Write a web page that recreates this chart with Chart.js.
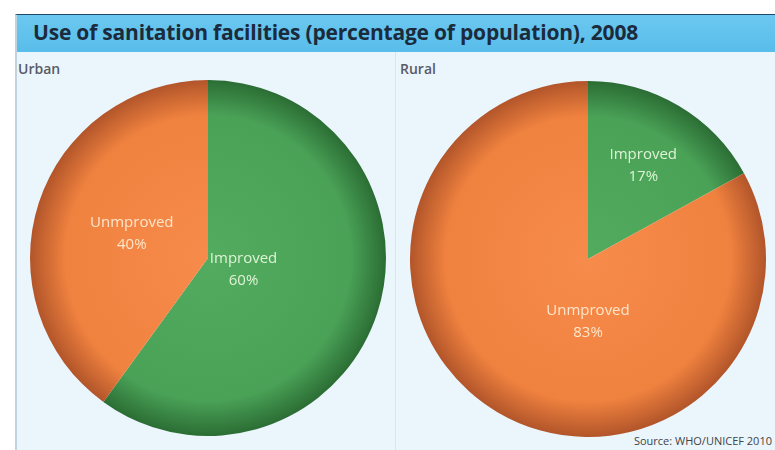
<!DOCTYPE html>
<html>
<head>
<meta charset="utf-8">
<script src="https://cdn.jsdelivr.net/npm/chart.js@4/dist/chart.umd.min.js"></script>
<style>
  body { margin: 0; background: #fff; width: 775px; height: 450px; overflow: hidden; position: relative; font-family: "Open Sans", "Noto Sans", sans-serif; }
  #frame { position: absolute; left: 15px; top: 14px; width: 760px; height: 436px; background: #eaf5fc; border-top: 1px solid #1d4a6a; border-left: 2px solid #c3d3de; box-sizing: border-box; }
  #titlebar { position: absolute; left: 0; top: 0; right: 0; height: 37px; background: linear-gradient(#6cc8f0, #58bdea); }
  #title { position: absolute; left: 16px; top: 3px; font-size: 21px; font-weight: 700; color: #1b2b3b; letter-spacing: -0.2px; }
  #divider { position: absolute; left: 378px; top: 37px; bottom: 0; width: 1px; background: #d6e6f0; }
  .panel { position: absolute; top: 44px; font-size: 14px; color: #5a5a66; font-weight: 600; }
  #source { position: absolute; right: 3px; bottom: 2px; font-size: 11px; color: #444; }
  canvas { position: absolute; }
</style>
</head>
<body>
<div id="frame">
  <div id="titlebar"><div id="title">Use of sanitation facilities (percentage of population), 2008</div></div>
  <div id="divider"></div>
  <div class="panel" style="left:1px">Urban</div>
  <div class="panel" style="left:383px">Rural</div>
  <div id="source">Source: WHO/UNICEF 2010</div>
</div>
<canvas id="urban" width="356" height="356" style="left:30px;top:80px"></canvas>
<canvas id="rural" width="356" height="356" style="left:410px;top:81px"></canvas>
<script>
const categories = ["Improved", "Unmproved"];
const urbanValues = [60, 40];
const ruralValues = [17, 83];

const shades = {
  Improved: ["#52ab5e", "#4aa257", "#2b6d34"],
  Unmproved: ["#f78b4b", "#f0823f", "#b2552a"]
};
const textColors = { Improved: "#dff3d6", Unmproved: "#fde6cc" };

function sliceFill(ctx) {
  const chart = ctx.chart;
  const area = chart.chartArea;
  if (!area) return null;
  const cx = (area.left + area.right) / 2;
  const cy = (area.top + area.bottom) / 2;
  const r = Math.min(area.right - area.left, area.bottom - area.top) / 2;
  const g = chart.ctx.createRadialGradient(cx, cy, 0, cx, cy, r);
  const s = shades[categories[ctx.dataIndex]];
  g.addColorStop(0, s[0]);
  g.addColorStop(0.8, s[1]);
  g.addColorStop(1, s[2]);
  return g;
}

const sliceLabels = {
  id: "sliceLabels",
  afterDatasetsDraw(chart, args, opts) {
    const c = chart.ctx;
    const meta = chart.getDatasetMeta(0);
    const data = chart.data.datasets[0].data;
    c.save();
    c.font = "15px 'Open Sans', 'Noto Sans', sans-serif";
    c.textAlign = "center";
    c.textBaseline = "middle";
    meta.data.forEach((arc, i) => {
      const p = arc.getProps(["x", "y", "startAngle", "endAngle", "outerRadius"]);
      let a = (p.startAngle + p.endAngle) / 2;
      if (opts.angles[i] != null) a = (opts.angles[i] - 90) * Math.PI / 180;
      const d = p.outerRadius * opts.radii[i];
      const x = p.x + Math.cos(a) * d;
      const y = p.y + Math.sin(a) * d;
      c.fillStyle = textColors[categories[i]];
      c.fillText(categories[i], x, y - 11);
      c.fillText(data[i] + "%", x, y + 11);
    });
    c.restore();
  }
};

function makePie(id, values, radii, angles) {
  return new Chart(document.getElementById(id), {
    type: "pie",
    data: {
      labels: categories,
      datasets: [{
        data: values,
        backgroundColor: sliceFill,
        borderWidth: 0,
        hoverOffset: 0
      }]
    },
    options: {
      responsive: false,
      animation: false,
      events: [],
      layout: { padding: 0 },
      plugins: {
        legend: { display: false },
        tooltip: { enabled: false },
        sliceLabels: { radii: radii, angles: angles }
      }
    },
    plugins: [sliceLabels]
  });
}

makePie("urban", urbanValues, [0.21, 0.45], [null, null]);
makePie("rural", ruralValues, [0.61, 0.35], [null, 180]);
</script>
</body>
</html>
